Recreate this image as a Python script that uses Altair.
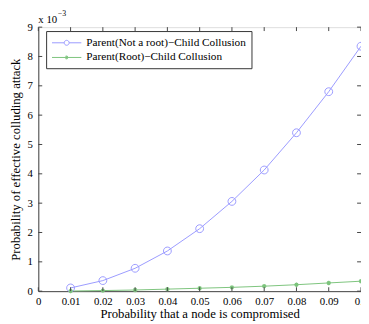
import altair as alt
import pandas as pd

# ---- data (values in units of 10^-3) ----
x_vals = [0.01, 0.02, 0.03, 0.04, 0.05, 0.06, 0.07, 0.08, 0.09, 0.10]
not_root = [0.11, 0.36, 0.78, 1.37, 2.13, 3.06, 4.13, 5.40, 6.80, 8.35]
root = [0.005, 0.02, 0.04, 0.07, 0.10, 0.13, 0.17, 0.22, 0.28, 0.34]
series_names = ["Parent(Not a root)\u2212Child Collusion", "Parent(Root)\u2212Child Collusion"]
series_colors = ["#9a9aff", "#7cc47c"]
x_ticks = [0, 0.01, 0.02, 0.03, 0.04, 0.05, 0.06, 0.07, 0.08, 0.09, 0.1]
y_ticks = [0, 1, 2, 3, 4, 5, 6, 7, 8, 9]
scale_base = "x 10"
scale_exp = "\u22123"

rows = []
for xv, yv in zip(x_vals, not_root):
    rows.append({"x": xv, "y": yv, "series": series_names[0]})
for xv, yv in zip(x_vals, root):
    rows.append({"x": xv, "y": yv, "series": series_names[1]})
df = pd.DataFrame(rows)

W, H = 330, 270
FONT = "Liberation Serif"

# marker shapes
circle_path = "M-1,0A1,1 0 1,0 1,0A1,1 0 1,0 -1,0"
star_path = "M-1,0H1M0,-1V1M-0.7,-0.7L0.7,0.7M-0.7,0.7L0.7,-0.7"
# legend glyphs: line + marker (unit = 6px at symbolSize 144)
leg_circle = "M-2.5,0H-0.42M0.42,0H2.5M-0.42,0A0.42,0.42 0 1,0 0.42,0A0.42,0.42 0 1,0 -0.42,0"
leg_star = "M-2.5,0H2.5M0,-0.33V0.33M-0.23,-0.23L0.23,0.23M-0.23,0.23L0.23,-0.23"

xscale = alt.Scale(domain=[0, 0.1], nice=False, zero=False)
yscale = alt.Scale(domain=[0, 9], nice=False)
cscale = alt.Scale(domain=series_names, range=series_colors)

xax = alt.Axis(values=x_ticks, format=".2~f", title="Probability that a node is compromised",
               grid=False, tickSize=0, labelPadding=5, domainColor="#444", labelColor="#000",
               titleColor="#000", labelFont=FONT, titleFont=FONT, labelFontSize=11,
               titleFontSize=13, titleFontWeight="normal", titlePadding=1, labelFlush=False,
               labelOverlap=False)
yax = alt.Axis(values=y_ticks, format="d", title="Probability of effective colluding attack",
               grid=False, tickSize=0, labelPadding=6, domainColor="#444", labelColor="#000",
               titleColor="#000", labelFont=FONT, titleFont=FONT, labelFontSize=11,
               titleFontSize=13, titleFontWeight="normal", titlePadding=5, labelOverlap=False)

leg = alt.Legend(title=None, orient="none", legendX=8, legendY=4,
                 strokeColor="#333", fillColor="white", padding=5.5,
                 labelFont=FONT, labelFontSize=11.5, labelColor="#000",
                 labelOffset=13.5, symbolOffset=9, rowPadding=3, symbolOpacity=1,
                 symbolSize=144, symbolStrokeWidth=1, symbolFillColor="transparent",
                 labelLimit=300)

X = alt.X("x:Q", scale=xscale, axis=xax, title="Probability that a node is compromised")
Y = alt.Y("y:Q", scale=yscale, axis=yax, title="Probability of effective colluding attack")

base = alt.Chart(df)
data_a = base.transform_filter(alt.datum.series == series_names[0])
data_b = base.transform_filter(alt.datum.series == series_names[1])

line_a = data_a.mark_line(strokeWidth=1, color=series_colors[0]).encode(x=X, y=Y)
line_b = data_b.mark_line(strokeWidth=1, color=series_colors[1]).encode(x=X, y=Y)

points_a = data_a.mark_point(
    filled=False, strokeWidth=1, opacity=1, shape=circle_path, size=64, color=series_colors[0]
).encode(x=X, y=Y)
points_b = data_b.mark_point(
    filled=False, strokeWidth=1.2, opacity=1, shape=star_path, size=20, color=series_colors[1]
).encode(x=X, y=Y)

legend_layer = base.mark_point(filled=False, strokeWidth=1, opacity=0).encode(
    x=X, y=Y,
    color=alt.Color("series:N", scale=cscale, legend=leg),
    shape=alt.Shape("series:N", scale=alt.Scale(domain=series_names, range=[leg_circle, leg_star]), legend=leg),
)

# inward tick marks on all four sides
xt = pd.DataFrame({"x": x_ticks})
yt = pd.DataFrame({"y": y_ticks})
tick_color = "#444"
xt_bottom = alt.Chart(xt).mark_rule(color=tick_color).encode(
    x=X, y=alt.value(H), y2=alt.value(H - 4))
xt_top = alt.Chart(xt).mark_rule(color=tick_color).encode(
    x=X, y=alt.value(0), y2=alt.value(4))
yt_left = alt.Chart(yt).mark_rule(color=tick_color).encode(
    y=Y, x=alt.value(0), x2=alt.value(4))
yt_right = alt.Chart(yt).mark_rule(color=tick_color).encode(
    y=Y, x=alt.value(W), x2=alt.value(W - 4))

# axis multiplier annotation "x 10^-3"
mult_base = alt.Chart(pd.DataFrame({"t": [scale_base]})).mark_text(
    font=FONT, fontSize=11, align="left", baseline="alphabetic", color="#000"
).encode(text="t:N", x=alt.value(0), y=alt.value(-4))
mult_exp = alt.Chart(pd.DataFrame({"t": [scale_exp]})).mark_text(
    font=FONT, fontSize=8, align="left", baseline="alphabetic", color="#000"
).encode(text="t:N", x=alt.value(20), y=alt.value(-11))

chart = alt.layer(line_a, line_b, points_a, points_b, legend_layer,
                  xt_bottom, xt_top, yt_left, yt_right, mult_base, mult_exp).properties(
    width=W, height=H,
    autosize=alt.AutoSizeParams(type="none"),
    padding={"left": 31, "top": 16, "right": 0, "bottom": 30},
).configure_view(stroke="#444", strokeWidth=1.5).configure(background="white")

chart.save("out.html", embed_options={"renderer": "svg", "actions": False})
